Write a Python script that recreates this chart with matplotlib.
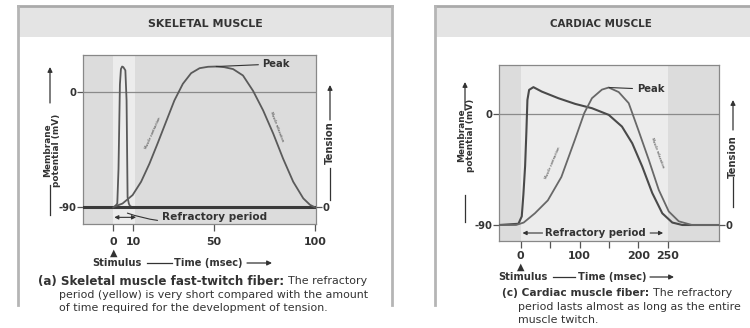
import matplotlib
matplotlib.use('Agg')
import matplotlib.pyplot as plt
from matplotlib.patches import Rectangle, FancyArrowPatch
from matplotlib.lines import Line2D

plt.rcParams['font.family'] = ['DejaVu Sans']

## valores

# skeletal muscle: potencial de ação (mV) e tensão (unid. arbitrária, 0 = repouso)
skel_ap_t = [-15, 0, 1, 2, 2.6, 3.3, 3.8, 4.4, 5, 5.6, 6, 6.6, 7.1, 7.7, 8.3, 9.6, 100.5]
skel_ap_v = [-90, -90, -89, -87, -60, 6, 18, 20, 19.5, 18, 17, -6.5, -82, -87, -89, -90, -90]
skel_ten_t = [0, 0.5, 4.6, 9.6, 13.8, 17.9, 22, 26.2, 30.3, 34.5, 38.6, 42.8, 47, 51, 55,
              59.4, 64.3, 69.3, 74.3, 79.3, 84.2, 89.2, 94.2, 97.5, 100]
skel_ten_v = [0, 0.5, 3, 9.6, 20, 34, 50, 67, 83.5, 96.5, 104.8, 108.7, 109.8, 110, 109.5,
              108, 103, 91, 75.7, 57.6, 38, 20, 7, 2, 0]
skel_ticks = [0, 10, 50, 100]
skel_refr = (0, 11)

# cardiac muscle
card_ap_t = [-37, -4, 1.7, 4.5, 7.4, 9.5, 11.3, 14.2, 21.5, 35.7, 64, 92.5, 121, 149.5, 172,
             189.5, 206.5, 223.5, 240.6, 257.6, 274.6, 337]
card_ap_v = [-90, -89, -83, -65, -42, -15, 11.6, 19.8, 22, 18.4, 13, 8.4, 4.9, -0.5, -10,
             -23.6, -42.5, -64, -80.5, -88, -90, -90]
card_ten_t = [-37, -8, 5, 24, 46, 69, 91.8, 108, 121, 138, 149.5, 166.5, 183.5, 200, 217.6,
              234.6, 251.6, 268.6, 291, 337]
card_ten_v = [0, 0, 2, 9.5, 20, 39, 69, 91, 103, 110, 111.7, 108, 99, 77, 53, 28.5, 11, 3,
              0, 0]
card_ticks = [0, 100, 200, 250]
card_minor = [50, 150]
card_refr = (0, 250)

W, H = 750, 328
fig = plt.figure(figsize=(7.5, 3.28), dpi=100)
rend = fig.canvas.get_renderer()

dark = '#333333'
curve = '#5a5a5a'


def fx(x):
    return x / W


def fy(y):
    return 1 - y / H


def fit(t, width, vertical=False):
    # ajusta o tamanho da fonte para a largura medida na figura original
    bb = t.get_window_extent(rend)
    size = bb.height if vertical else bb.width
    t.set_fontsize(t.get_fontsize() * width / size)
    return t


def ftext(x, y, s, width=None, vertical=False, **kw):
    kw.setdefault('color', dark)
    t = fig.text(fx(x), fy(y), s, **kw)
    if width:
        fit(t, width, vertical)
    return t


def fline(x0, y0, x1, y1, color=dark, lw=0.9):
    fig.add_artist(Line2D([fx(x0), fx(x1)], [fy(y0), fy(y1)], transform=fig.transFigure,
                          color=color, lw=lw))


def farrow(x0, y0, x1, y1):
    fig.add_artist(FancyArrowPatch((fx(x0), fy(y0)), (fx(x1), fy(y1)), transform=fig.transFigure,
                                   arrowstyle='-|>', mutation_scale=7, color=dark, lw=0.9,
                                   shrinkA=0, shrinkB=0))


def make_ax(x0, y0, x1, y1):
    return fig.add_axes([fx(x0), fy(y1), (x1 - x0) / W, (y1 - y0) / H])


def caption(x, y, bold, rest, size_b, size_r):
    # parte em negrito seguida do texto normal na mesma linha
    t = ftext(x, y, bold, fontsize=size_b, fontweight='bold', va='center')
    w = t.get_window_extent(rend).width
    ftext(x + w + 4, y, rest, fontsize=size_r, va='center')


## caixas dos painéis
for (x0, x1, title, tx, tw) in [(18, 392, 'SKELETAL MUSCLE', 205, 116),
                                (435, 752, 'CARDIAC MUSCLE', 601, 102)]:
    fig.add_artist(Rectangle((fx(x0), fy(37)), (x1 - x0) / W, 31 / H, transform=fig.transFigure,
                             facecolor='#e4e4e4', edgecolor='none'))
    fline(x0, 6, x1, 6, color='#aaaaaa', lw=2)
    fline(x0, 6, x0, 305, color='#b5b5b5', lw=2)
    ftext(tx, 24, title, width=tw, fontsize=7, fontweight='bold', ha='center', va='center')
fline(392, 6, 392, 305, color='#b5b5b5', lw=2)


def style_ax(ax, xlim, ylim, ticks, pad):
    ax.set_xlim(*xlim)
    ax.set_ylim(*ylim)
    ax.set_facecolor('#dcdcdc')
    for s in ax.spines.values():
        s.set_color('#888888')
        s.set_linewidth(0.9)
    ax.set_xticks(ticks)
    ax.set_xticklabels([str(t) for t in ticks])
    ax.set_yticks([0, -90])
    ax.set_yticklabels(['0', '-90'])
    ax.tick_params(axis='x', length=5, width=0.9, color='#555555', pad=pad, labelsize=7.9,
                   labelcolor=dark)
    ax.tick_params(axis='y', length=4, width=0.9, color='#555555', pad=1, labelsize=7.2,
                   labelcolor=dark)
    for lab in ax.get_xticklabels() + ax.get_yticklabels():
        lab.set_fontweight('bold')
    ax.axhline(0, color='#8a8a8a', lw=0.9, zorder=1)


def style_twin(ax, ax2):
    lo, hi = ax.get_ylim()
    ax2.set_ylim(lo + 90, hi + 90)
    ax2.set_yticks([0])
    ax2.set_yticklabels(['0'])
    ax2.tick_params(axis='y', length=4, width=0.9, color='#555555', pad=1, labelsize=7.2,
                    labelcolor=dark)
    for lab in ax2.get_yticklabels():
        lab.set_fontweight('bold')
    for s in ax2.spines.values():
        s.set_visible(False)


## painel esquerdo - skeletal
ax1 = make_ax(83, 55, 316, 224)
style_ax(ax1, (-15, 100.5), (-103, 29), skel_ticks, 4.5)
ax1.axvspan(*skel_refr, color='#ececec', zorder=0, lw=0)
ax1.axhline(-90, color='#3a3a3a', lw=2.2, zorder=3)
ax1.plot(skel_ap_t, skel_ap_v, color=curve, lw=1.3, zorder=2)
ax1b = ax1.twinx()
style_twin(ax1, ax1b)
ax1b.plot(skel_ten_t, skel_ten_v, color=curve, lw=1.3)
ax1b.annotate('Peak', xy=(51, 110), xytext=(74, 112), fontsize=7.2, fontweight='bold',
              color=dark, va='center', ha='left',
              arrowprops=dict(arrowstyle='-', color=dark, lw=0.8, shrinkA=1, shrinkB=0))
ax1.annotate('', xy=(0.5, -97.8), xytext=(11.3, -97.8),
             arrowprops=dict(arrowstyle='<|-|>', color=dark, lw=0.8, mutation_scale=6,
                             shrinkA=0, shrinkB=0))
ax1.annotate('Refractory period', xy=(7, -94.5), xytext=(24, -97.5), fontsize=7.6,
             fontweight='bold', color=dark, va='center', ha='left',
             arrowprops=dict(arrowstyle='-', color=dark, lw=0.8, shrinkA=1, shrinkB=0,
                             connectionstyle='arc3,rad=-0.15'))

## painel direito - cardiac
ax2 = make_ax(499, 65, 719, 241)
style_ax(ax2, (-37, 337), (-103, 40), card_ticks, 2)
ax2.set_xticks(card_minor, minor=True)
ax2.tick_params(axis='x', which='minor', length=5, width=0.9, color='#555555')
ax2.axvspan(*card_refr, color='#ececec', zorder=0, lw=0)
ax2.plot(card_ap_t, card_ap_v, color='#4a4a4a', lw=1.5, zorder=3)
ax2b = ax2.twinx()
style_twin(ax2, ax2b)
ax2b.plot(card_ten_t, card_ten_v, color='#686868', lw=1.3)
ax2b.annotate('Peak', xy=(150, 111.7), xytext=(197, 110.3), fontsize=7.2,
              fontweight='bold', color=dark, va='center', ha='left',
              arrowprops=dict(arrowstyle='-', color=dark, lw=0.8, shrinkA=1, shrinkB=0))
ax2.text(127, -96.5, 'Refractory period', fontsize=7.3, fontweight='bold', color=dark,
         ha='center', va='center')
ax2.annotate('', xy=(3, -96.5), xytext=(37, -96.5),
             arrowprops=dict(arrowstyle='-|>', color=dark, lw=0.8, mutation_scale=6,
                             shrinkA=0, shrinkB=0))
ax2.annotate('', xy=(242, -96.5), xytext=(220, -96.5),
             arrowprops=dict(arrowstyle='-|>', color=dark, lw=0.8, mutation_scale=6,
                             shrinkA=0, shrinkB=0))

## textos pequenos ao longo das curvas
for (x, y, s, r) in [(153, 133, 'Muscle contraction', 66), (277, 127, 'Muscle relaxation', -69),
                     (553, 163, 'Muscle contraction', 67), (657, 153, 'Muscle relaxation', -70)]:
    ftext(x, y, s, fontsize=2.6, rotation=r, ha='center', va='center', rotation_mode='anchor')

## rótulos dos eixos
for (ax_x, tx, y_arrow, y_text, y_line) in [(50, 52, (103, 67), 150, (185, 215)),
                                            (465, 466, (110, 82), 135, (195, 222))]:
    farrow(ax_x, y_arrow[0], ax_x, y_arrow[1])
    ftext(tx, y_text, 'Membrane\npotential (mV)', width=73, vertical=True, fontsize=7.5,
          fontweight='bold', rotation=90, ha='center', va='center', linespacing=1.1,
          multialignment='center')
    fline(ax_x, y_line[0], ax_x, y_line[1])

for (x, y_arrow, y_text, y_line) in [(330, (120, 85), 143, (168, 200)),
                                     (733, (130, 100), 157, (177, 207))]:
    farrow(x, y_arrow[0], x, y_arrow[1])
    ftext(x, y_text, 'Tension', width=43, vertical=True, fontsize=7.5, fontweight='bold',
          rotation=90, ha='center', va='center')
    fline(x, y_line[0], x, y_line[1])

## stimulus / time
for (sx, sc, ty, l1, tt, l2) in [(114, 117, 253, (147, 172), 208, (247, 272)),
                                 (521, 523, 267, (553, 575), 612, (650, 674))]:
    ftext(sx, ty, '\u25b2', fontsize=7, ha='center', va='center')
    ftext(sc, ty + 10, 'Stimulus', width=49, fontsize=7.5, fontweight='bold', ha='center',
          va='center')
    fline(l1[0], ty + 10, l1[1], ty + 10)
    ftext(tt, ty + 10, 'Time (msec)', width=69, fontsize=7.5, fontweight='bold', ha='center',
          va='center')
    farrow(l2[0], ty + 10, l2[1], ty + 10)

## legendas
caption(38, 281, '(a) Skeletal muscle fast-twitch fiber:', 'The refractory', 8.6, 7.9)
ftext(59, 295, 'period (yellow) is very short compared with the amount', fontsize=7.9,
      va='center')
ftext(59, 308, 'of time required for the development of tension.', fontsize=7.9, va='center')

caption(502, 293, '(c) Cardiac muscle fiber:', 'The refractory', 7.7, 7.9)
ftext(518, 307, 'period lasts almost as long as the entire', fontsize=7.9, va='center')
ftext(518, 320, 'muscle twitch.', fontsize=7.9, va='center')

fig.savefig('out.png', dpi=100, facecolor='white')
